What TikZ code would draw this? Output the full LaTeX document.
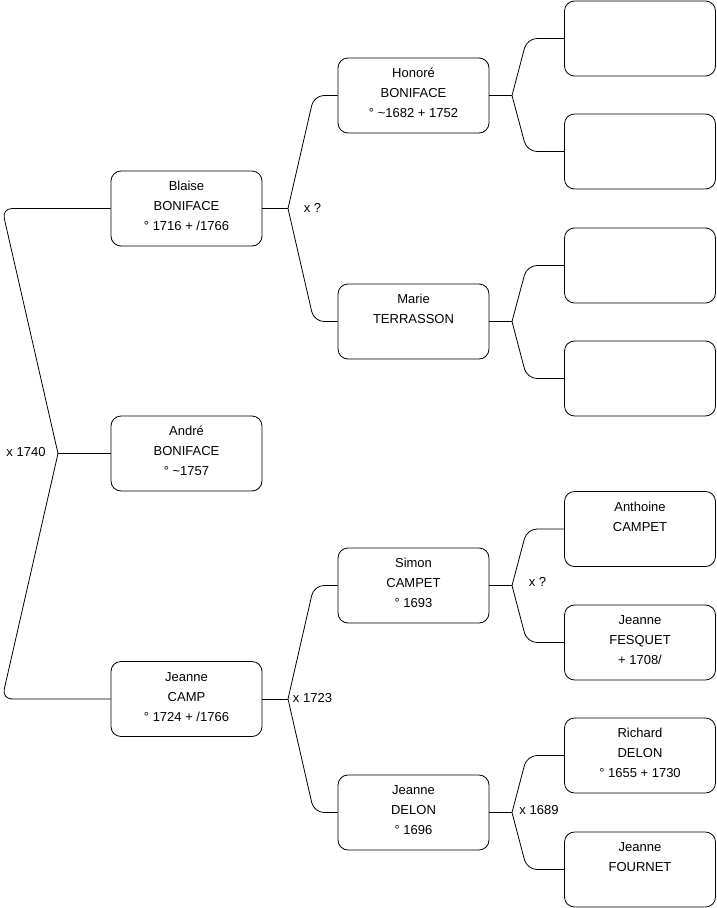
\documentclass[tikz,border=0pt]{standalone}
\usepackage{fontspec}
\setmainfont{Liberation Sans}
\newcommand\ptxt[1]{\raisebox{2pt}[\height][\depth]{\begin{tabular}{@{}c@{}}#1\end{tabular}}}
\begin{document}
\begin{tikzpicture}[x=1pt,y=-1pt,
  person/.style={draw, line width=0.8pt, rounded corners=10pt, minimum width=151pt, minimum height=75pt, align=center, inner sep=0pt, font=\fontsize{13}{20}\selectfont},
  link/.style={draw, line width=0.8pt},
  elbow/.style={draw, line width=0.8pt, rounded corners=10pt},
  lbl/.style={font=\fontsize{13}{15}\selectfont, inner sep=0pt}]
\useasboundingbox (0,0) rectangle (716,908);
% level 1
\node[person] (blaise) at (186.5,208.5) {\ptxt{Blaise\\BONIFACE\\° 1716 + /1766}};
\node[person] (andre) at (186.5,453.5) {\ptxt{André\\BONIFACE\\° \textasciitilde1757}};
\node[person] (camp) at (186.5,699) {\ptxt{Jeanne\\CAMP\\° 1724 + /1766}};
% level 2
\node[person] (honore) at (413.5,95.5) {\ptxt{Honoré\\BONIFACE\\° \textasciitilde1682 + 1752}};
\node[person] (marie) at (413.5,321.5) {\ptxt{Marie\\TERRASSON\\\mbox{}}};
\node[person] (simon) at (413.5,585.5) {\ptxt{Simon\\CAMPET\\° 1693}};
\node[person] (delon) at (413.5,812.5) {\ptxt{Jeanne\\DELON\\° 1696}};
% level 3
\node[person] (p1) at (640,38.5) {};
\node[person] (p2) at (640,151.5) {};
\node[person] (p3) at (640,265.5) {};
\node[person] (p4) at (640,378.5) {};
\node[person] (p5) at (640,529) {\ptxt{Anthoine\\CAMPET\\\mbox{}}};
\node[person] (p6) at (640,642.5) {\ptxt{Jeanne\\FESQUET\\+ 1708/}};
\node[person] (p7) at (640,755.5) {\ptxt{Richard\\DELON\\° 1655 + 1730}};
\node[person] (p8) at (640,869.5) {\ptxt{Jeanne\\FOURNET\\\mbox{}}};
% corner x positions
\coordinate (k0) at (2,0);
\coordinate (k1) at (314,0);
\coordinate (k2) at (527,0);
% junctions
\coordinate (j0) at (58,453.5);
\coordinate (ja) at (288,208.5);
\coordinate (jb) at (288,699);
\coordinate (jc) at (512,95.5);
\coordinate (jd) at (512,321.5);
\coordinate (je) at (512,585.5);
\coordinate (jf) at (512,812.5);
% connectors
\path[link] (andre.west) -- (j0);
\path[elbow] (j0) -- (k0 |- blaise.west) -- (blaise.west);
\path[elbow] (j0) -- (k0 |- camp.west) -- (camp.west);
\path[link] (blaise.east) -- (ja);
\path[elbow] (ja) -- (k1 |- honore.west) -- (honore.west);
\path[elbow] (ja) -- (k1 |- marie.west) -- (marie.west);
\path[link] (camp.east) -- (jb);
\path[elbow] (jb) -- (k1 |- simon.west) -- (simon.west);
\path[elbow] (jb) -- (k1 |- delon.west) -- (delon.west);
\path[link] (honore.east) -- (jc);
\path[elbow] (jc) -- (k2 |- p1.west) -- (p1.west);
\path[elbow] (jc) -- (k2 |- p2.west) -- (p2.west);
\path[link] (marie.east) -- (jd);
\path[elbow] (jd) -- (k2 |- p3.west) -- (p3.west);
\path[elbow] (jd) -- (k2 |- p4.west) -- (p4.west);
\path[link] (simon.east) -- (je);
\path[elbow] (je) -- (k2 |- p5.west) -- (p5.west);
\path[elbow] (je) -- (k2 |- p6.west) -- (p6.west);
\path[link] (delon.east) -- (jf);
\path[elbow] (jf) -- (k2 |- p7.west) -- (p7.west);
\path[elbow] (jf) -- (k2 |- p8.west) -- (p8.west);
% marriage labels
\node[lbl] (m0) at (26,452) {x 1740};
\node[lbl] (m1) at (312.5,208) {x ?};
\node[lbl] (m2) at (312.5,698) {x 1723};
\node[lbl] (m3) at (537.5,582) {x ?};
\node[lbl] (m4) at (539,810) {x 1689};
\end{tikzpicture}
\end{document}
